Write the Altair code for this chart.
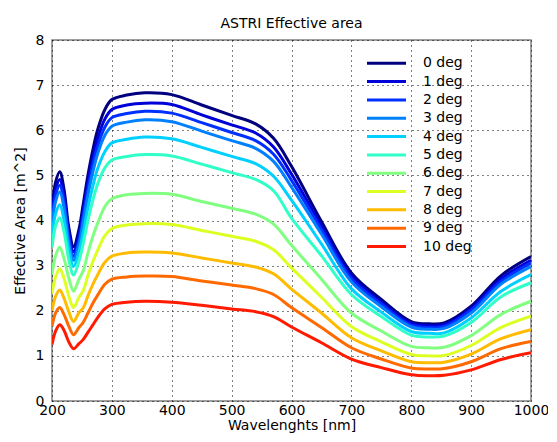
import altair as alt
import pandas as pd

wavelengths = [200, 206, 213, 220, 228, 236, 245, 252, 260, 268, 276, 288, 300, 325, 355,
               400, 450, 500, 540, 570, 600, 650, 700, 750, 800, 830, 855, 900, 950, 1000]

deg_0 = [4.25, 4.85, 5.08, 4.70, 3.85, 3.42, 3.80, 4.35, 5.00, 5.55, 6.00, 6.45, 6.68, 6.78, 6.83,
         6.79, 6.56, 6.33, 6.14, 5.82, 5.20, 3.98, 2.84, 2.25, 1.76, 1.71, 1.73, 2.10, 2.78, 3.20]
deg_1 = [4.11, 4.69, 4.91, 4.54, 3.72, 3.31, 3.67, 4.21, 4.84, 5.37, 5.80, 6.24, 6.46, 6.56, 6.60,
         6.57, 6.34, 6.12, 5.94, 5.63, 5.03, 3.88, 2.77, 2.19, 1.72, 1.67, 1.69, 2.05, 2.71, 3.12]
deg_2 = [4.00, 4.56, 4.78, 4.42, 3.62, 3.21, 3.57, 4.09, 4.70, 5.22, 5.64, 6.06, 6.28, 6.37, 6.42,
         6.38, 6.17, 5.95, 5.77, 5.47, 4.89, 3.80, 2.71, 2.15, 1.68, 1.63, 1.65, 2.01, 2.65, 3.06]
deg_3 = [3.88, 4.42, 4.63, 4.29, 3.51, 3.12, 3.47, 3.97, 4.56, 5.06, 5.47, 5.88, 6.09, 6.18, 6.23,
         6.19, 5.98, 5.77, 5.60, 5.31, 4.74, 3.70, 2.64, 2.09, 1.64, 1.59, 1.61, 1.95, 2.59, 2.98]
deg_4 = [3.64, 4.15, 4.35, 4.02, 3.35, 2.98, 3.31, 3.72, 4.28, 4.75, 5.14, 5.52, 5.72, 5.80, 5.85,
         5.81, 5.62, 5.42, 5.26, 4.98, 4.45, 3.48, 2.49, 1.97, 1.54, 1.50, 1.51, 1.84, 2.43, 2.80]
deg_5 = [3.40, 3.88, 4.06, 3.76, 3.14, 2.79, 3.10, 3.48, 4.00, 4.44, 4.80, 5.16, 5.34, 5.42, 5.46,
         5.43, 5.25, 5.06, 4.91, 4.66, 4.05, 3.22, 2.36, 1.87, 1.46, 1.42, 1.44, 1.74, 2.31, 2.62]
deg_6 = [2.80, 3.22, 3.41, 3.16, 2.73, 2.43, 2.70, 2.88, 3.28, 3.64, 3.93, 4.30, 4.48, 4.57, 4.60,
         4.58, 4.42, 4.27, 4.14, 3.92, 3.45, 2.70, 1.95, 1.55, 1.21, 1.18, 1.19, 1.45, 1.92, 2.21]
deg_7 = [2.38, 2.75, 2.93, 2.72, 2.33, 2.07, 2.30, 2.44, 2.78, 3.08, 3.33, 3.66, 3.82, 3.90, 3.93,
         3.91, 3.78, 3.65, 3.54, 3.35, 2.95, 2.30, 1.65, 1.31, 1.03, 1.00, 1.01, 1.23, 1.63, 1.88]
deg_8 = [2.00, 2.32, 2.46, 2.28, 1.98, 1.76, 1.96, 2.06, 2.33, 2.58, 2.79, 3.07, 3.21, 3.28, 3.30,
         3.28, 3.17, 3.06, 2.97, 2.82, 2.48, 1.95, 1.40, 1.11, 0.87, 0.85, 0.86, 1.04, 1.38, 1.58]
deg_9 = [1.66, 1.95, 2.07, 1.92, 1.66, 1.47, 1.63, 1.74, 1.95, 2.16, 2.34, 2.58, 2.70, 2.75, 2.77,
         2.76, 2.66, 2.57, 2.49, 2.36, 2.07, 1.63, 1.18, 0.93, 0.73, 0.71, 0.72, 0.87, 1.16, 1.32]
deg_10 = [1.25, 1.55, 1.69, 1.57, 1.31, 1.16, 1.27, 1.36, 1.52, 1.68, 1.84, 2.04, 2.14, 2.19, 2.21,
          2.19, 2.12, 2.04, 1.98, 1.87, 1.64, 1.29, 0.93, 0.74, 0.58, 0.56, 0.57, 0.69, 0.92, 1.07]

labels = ["0 deg", "1 deg", "2 deg", "3 deg", "4 deg", "5 deg",
          "6 deg", "7 deg", "8 deg", "9 deg", "10 deg"]
colors = ["#00007f", "#0000d8", "#0030ff", "#0080ff", "#00d0ff", "#30ffc8",
          "#80ff80", "#ddff22", "#ffbb00", "#ff6a00", "#ff1a00"]

x_ticks = [200, 300, 400, 500, 600, 700, 800, 900, 1000]
y_ticks = [0, 1, 2, 3, 4, 5, 6, 7, 8]

series = [deg_0, deg_1, deg_2, deg_3, deg_4, deg_5, deg_6, deg_7, deg_8, deg_9, deg_10]
rows = []
for i, (lab, vals) in enumerate(zip(labels, series)):
    for w, v in zip(wavelengths, vals):
        rows.append({"wl": w, "area": v, "series": lab, "order": i})
df = pd.DataFrame(rows)
leg = pd.DataFrame({"series": labels, "idx": list(range(len(labels)))})

FONT = "DejaVu Sans"
color_scale = alt.Scale(domain=labels, range=colors)

lines = alt.Chart(df).mark_line(strokeWidth=3, interpolate="catmull-rom", clip=True).encode(
    x=alt.X("wl:Q", scale=alt.Scale(domain=[200, 1000], nice=False, zero=False),
            axis=alt.Axis(values=x_ticks, title="Wavelenghts [nm]", format="d")),
    y=alt.Y("area:Q", scale=alt.Scale(domain=[0, 8], nice=False),
            axis=alt.Axis(values=y_ticks, title="Effective Area [m^2]", format="d")),
    color=alt.Color("series:N", scale=color_scale, legend=None, sort=labels),
    detail="order:O",
)

leg_y = alt.Y("idx:Q", scale=alt.Scale(domain=[0, 10], range=[23.3, 206.5]), axis=None)

legend_rules = alt.Chart(leg).mark_rule(strokeWidth=3).encode(
    x=alt.value(315), x2=alt.value(354),
    y=leg_y,
    color=alt.Color("series:N", scale=color_scale, legend=None, sort=labels),
)

legend_text = alt.Chart(leg).mark_text(
    align="left", baseline="middle", fontSize=14, font=FONT, color="black"
).encode(
    x=alt.value(371),
    y=leg_y,
    text="series:N",
)

chart = alt.layer(lines, legend_rules, legend_text).resolve_scale(
    y="independent"
).properties(
    width=479,
    height=361,
    title=alt.Title("ASTRI Effective area", fontSize=14, font=FONT, fontWeight="normal",
                    color="black", frame="group", anchor="middle", offset=2),
    autosize=alt.AutoSizeParams(type="none"),
    padding={"left": 44, "top": 32, "right": 17, "bottom": 33},
).configure_view(
    stroke="#808080", strokeWidth=1.5
).configure_axis(
    grid=True, gridColor="black", gridDash=[1, 4], gridWidth=1, gridOpacity=1,
    domain=False, ticks=False,
    labelFont=FONT, labelFontSize=14, labelColor="black",
    titleFont=FONT, titleFontSize=14, titleColor="black", titleFontWeight="normal",
    labelFlush=False, labelOverlap=False,
).configure_axisX(
    labelPadding=2, titlePadding=1,
).configure_axisY(
    labelPadding=8, titlePadding=8,
)

chart.save("out.html", embed_options={"renderer": "svg", "actions": False})
